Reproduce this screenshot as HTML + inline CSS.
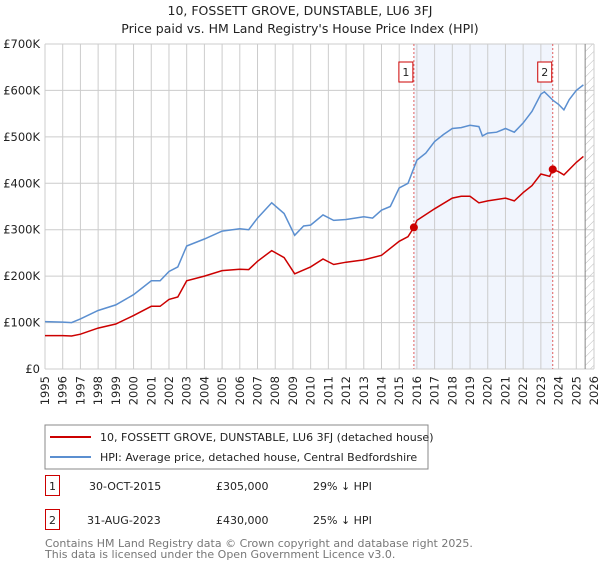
<!DOCTYPE html>
<html><head><meta charset="utf-8"><style>
body{margin:0;background:#fff;font-family:"Liberation Sans","DejaVu Sans",sans-serif;}
svg text{font-family:"DejaVu Sans","Liberation Sans",sans-serif;}
</style></head><body>
<svg id="c" width="600" height="560" xmlns="http://www.w3.org/2000/svg">
<defs><pattern id="hatch" width="6" height="6" patternUnits="userSpaceOnUse" patternTransform="rotate(45)"><line x1="0" y1="0" x2="0" y2="6" stroke="#bbb" stroke-width="1"/></pattern></defs>
<text x="300" y="15" text-anchor="middle" font-size="12.5" fill="#222">10, FOSSETT GROVE, DUNSTABLE, LU6 3FJ</text>
<text x="300" y="33" text-anchor="middle" font-size="12.5" fill="#222">Price paid vs. HM Land Registry's House Price Index (HPI)</text>
<g id="plot"></g>
<rect x="45" y="425" width="383" height="44" fill="#fff" stroke="#888"/>
<line x1="50" y1="437" x2="91" y2="437" stroke="#cc0000" stroke-width="2"/>
<text x="100" y="441" font-size="11" fill="#222">10, FOSSETT GROVE, DUNSTABLE, LU6 3FJ (detached house)</text>
<line x1="50" y1="457" x2="91" y2="457" stroke="#5b8fd0" stroke-width="2"/>
<text x="100" y="461" font-size="11" fill="#222">HPI: Average price, detached house, Central Bedfordshire</text>
<rect x="45.5" y="475.5" width="14" height="20" fill="none" stroke="#cc0000"/>
<text x="52.5" y="490" text-anchor="middle" font-size="11" fill="#222">1</text>
<text x="89" y="490" font-size="11" fill="#222">30-OCT-2015</text>
<text x="216" y="490" font-size="11" fill="#222">£305,000</text>
<text x="313" y="490" font-size="11" fill="#222">29% ↓ HPI</text>
<rect x="45.5" y="509.5" width="14" height="20" fill="none" stroke="#cc0000"/>
<text x="52.5" y="524" text-anchor="middle" font-size="11" fill="#222">2</text>
<text x="87" y="524" font-size="11" fill="#222">31-AUG-2023</text>
<text x="216" y="524" font-size="11" fill="#222">£430,000</text>
<text x="313" y="524" font-size="11" fill="#222">25% ↓ HPI</text>
<text x="45" y="547" font-size="11" fill="#777">Contains HM Land Registry data © Crown copyright and database right 2025.</text>
<text x="45" y="558" font-size="11" fill="#777">This data is licensed under the Open Government Licence v3.0.</text>
</svg>
<script>
const yTicks=[0,100,200,300,400,500,600,700];
const yTickLabels=["£0","£100K","£200K","£300K","£400K","£500K","£600K","£700K"];
const xYears=[1995,1996,1997,1998,1999,2000,2001,2002,2003,2004,2005,2006,2007,2008,2009,2010,2011,2012,2013,2014,2015,2016,2017,2018,2019,2020,2021,2022,2023,2024,2025,2026];
const hpiT=[1995,1996,1996.5,1997,1998,1999,2000,2001,2001.5,2002,2002.5,2003,2004,2005,2006,2006.5,2007,2007.8,2008.5,2009.1,2009.6,2010,2010.7,2011.3,2012,2013,2013.5,2014,2014.5,2015,2015.5,2016,2016.5,2017,2017.5,2018,2018.5,2019,2019.5,2019.7,2020,2020.5,2021,2021.5,2022,2022.5,2023,2023.2,2023.7,2024,2024.3,2024.6,2025,2025.4];
const hpiV=[102,101,100,108,126,138,160,190,190,210,220,265,280,297,302,300,325,358,335,288,308,310,332,320,322,328,325,342,350,390,400,450,465,490,505,518,520,525,522,502,508,510,518,510,530,555,592,597,578,570,558,580,600,612];
const propT=[1995,1996,1996.5,1997,1998,1999,2000,2001,2001.5,2002,2002.5,2003,2004,2005,2006,2006.5,2007,2007.8,2008.5,2009.1,2010,2010.7,2011.3,2012,2013,2014,2015,2015.5,2015.83,2016,2017,2018,2018.5,2019,2019.5,2020,2021,2021.5,2022,2022.5,2023,2023.5,2023.67,2024,2024.3,2025,2025.4];
const propV=[72,72,71,75,88,97,115,135,135,150,155,190,200,212,215,214,232,255,240,205,220,237,225,230,235,245,275,285,305,320,345,368,372,372,358,362,368,362,380,395,420,415,430,425,418,445,458];
const saleT=[2015.83,2023.67];
const saleV=[305,430];
const saleLabels=["1","2"];
const L=45,R=594,T=44,B=369;
const x=t=>L+(t-1995)/(2026-1995)*(R-L);
const y=v=>B-v/700*(B-T);
const NS="http://www.w3.org/2000/svg";
const g=document.getElementById('plot');
function mk(tag,at){const e=document.createElementNS(NS,tag);for(const k in at)e.setAttribute(k,at[k]);g.appendChild(e);return e;}
let e;
e=mk('rect',{x:x(saleT[0]),y:T,width:x(saleT[1])-x(saleT[0]),height:B-T,fill:'#eef3fc',opacity:0.8});


e=mk('rect',{x:x(2025.5),y:T,width:R-x(2025.5),height:B-T,fill:'url(#hatch)'});


xYears.forEach(t=>{
 e=mk('line',{x1:x(t),x2:x(t),y1:T,y2:B,stroke:'#ccc','stroke-width':1});
 
 
 const tx=x(t)+4,ty=376;
 e=mk('text',{x:tx,y:ty,'text-anchor':'end','font-size':11.5,fill:'#222',transform:`rotate(-90 ${tx} ${ty})`});e.textContent=t;
 
 
});
yTicks.forEach((v,i)=>{
 e=mk('line',{x1:L,x2:R,y1:y(v),y2:y(v),stroke:'#ccc','stroke-width':1});
 
 
 e=mk('text',{x:L-5,y:y(v)+4,'text-anchor':'end','font-size':11.5,fill:'#222'});e.textContent=yTickLabels[i];
 
 
});
e=mk('line',{x1:x(2025.5),x2:x(2025.5),y1:T,y2:B,stroke:'#888','stroke-width':1});


e=mk('line',{x1:L,x2:L,y1:T,y2:B,stroke:'#ccc'});


saleT.forEach((t,i)=>{
 e=mk('line',{x1:x(t),x2:x(t),y1:T,y2:B,stroke:'#e06060','stroke-width':1,'stroke-dasharray':'2,2'});
 
 
 e=mk('rect',{x:x(t)-15,y:62,width:14,height:20,fill:'#fff',stroke:'#cc0000'});
 
 
 e=mk('text',{x:x(t)-8,y:76,'text-anchor':'middle','font-size':11,fill:'#222'});e.textContent=saleLabels[i];
 
 
});
function path(ts,vs){return ts.map((t,i)=>(i?'L':'M')+x(t).toFixed(1)+','+y(vs[i]).toFixed(1)).join('');}
e=mk('path',{d:path(hpiT,hpiV),fill:'none',stroke:'#5b8fd0','stroke-width':1.5});


e=mk('path',{d:path(propT,propV),fill:'none',stroke:'#cc0000','stroke-width':1.5});


saleT.forEach((t,i)=>{
 e=mk('circle',{cx:x(t),cy:y(saleV[i]),r:4,fill:'#cc0000'});
 
 
});
</script>
</body></html>
